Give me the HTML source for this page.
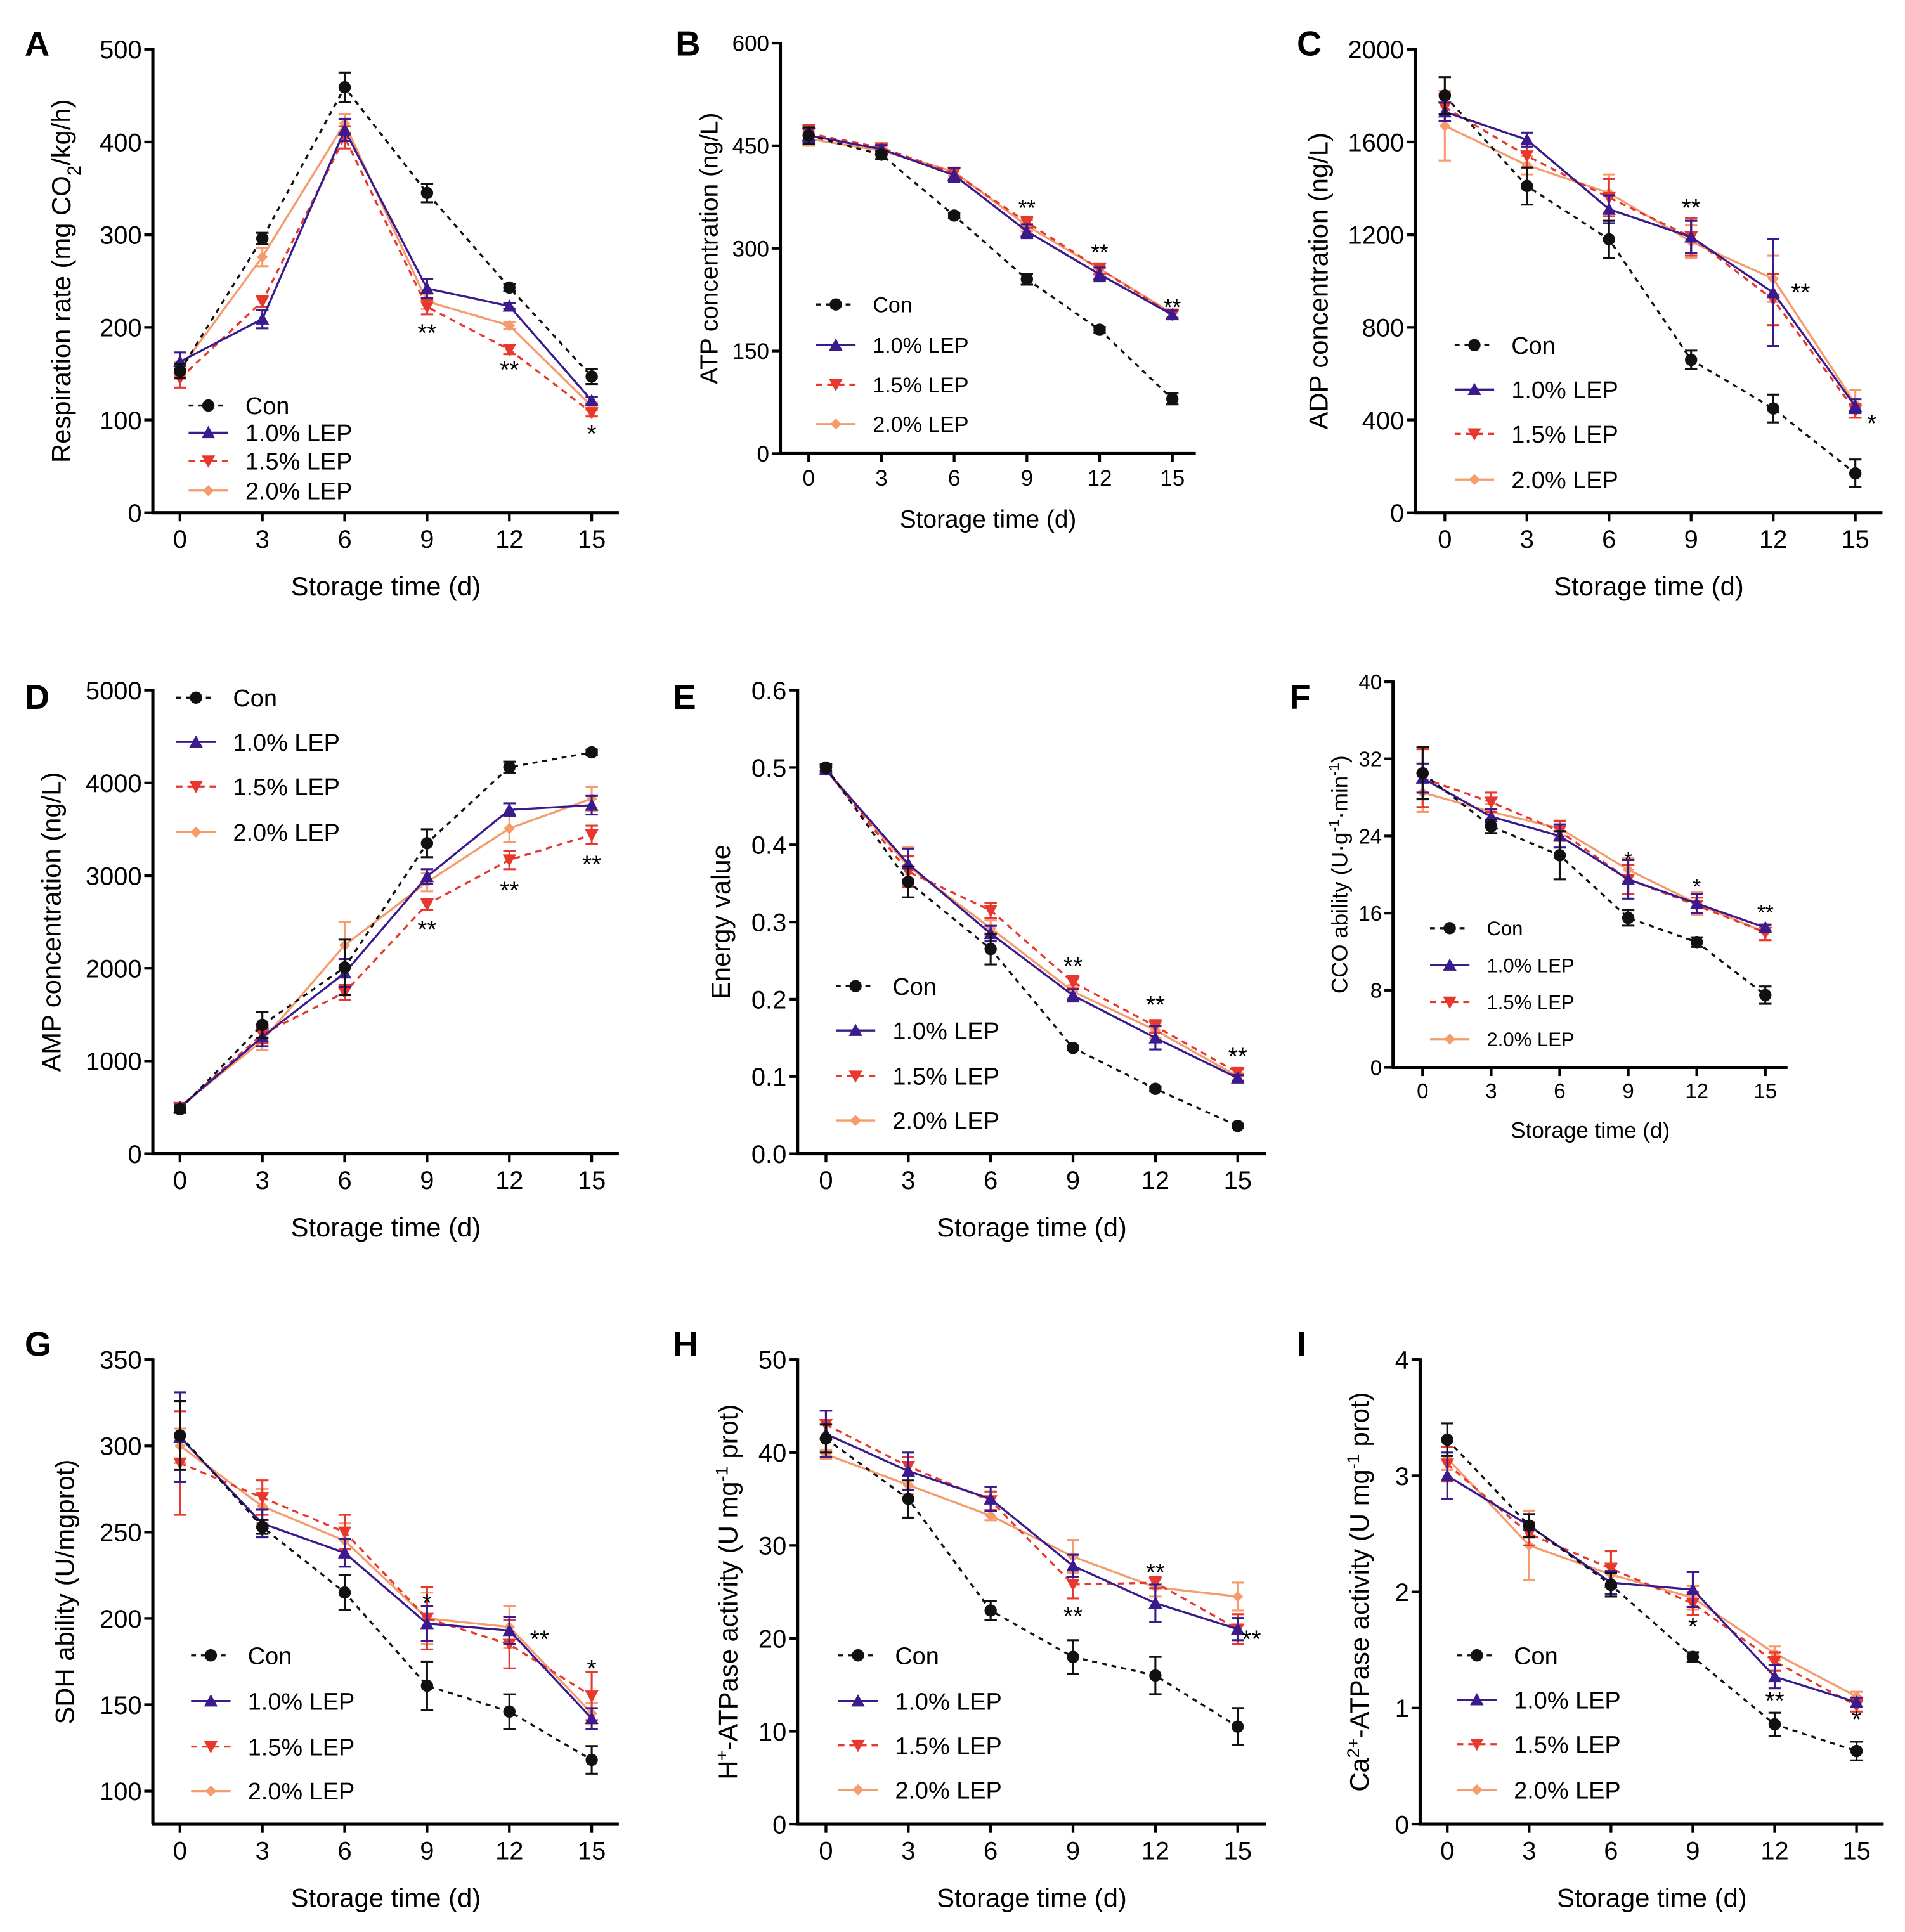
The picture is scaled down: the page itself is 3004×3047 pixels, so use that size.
<!DOCTYPE html>
<html><head><meta charset="utf-8"><style>
html,body{margin:0;padding:0;background:#fff;}
svg{display:block;font-family:"Liberation Sans",Arial,sans-serif;}
</style></head><body>
<svg id="fig" width="3004" height="3047" viewBox="0 0 1545.3 1567.4" xmlns="http://www.w3.org/2000/svg"></svg>
<script>
const days=[0,3,6,9,12,15];
const seriesNames=["Con","1.0% LEP","1.5% LEP","2.0% LEP"];
// panel A
const aCon=[153,296,459,345,243,147], a10=[163,209,413,242,223,121], a15=[145,228,405,222,176,108], a20=[155,276,420,228,202,115];
const aErr=[[8,6,16,10,4,8],[10,10,12,10,3,4],[10,6,12,8,5,4],[8,10,10,8,4,4]];
// panel B
const bCon=[465,437,348,255,181,80], b10=[465,445,407,325,262,203], b15=[468,447,410,338,270,203], b20=[460,443,412,333,270,205];
const bErr=[[12,6,4,8,4,8],[10,6,10,10,10,6],[12,6,8,8,8,6],[10,6,6,8,8,6]];
// panel C
const cCon=[1800,1410,1180,660,450,170], c10=[1730,1610,1310,1190,950,460], c15=[1750,1540,1360,1190,920,440], c20=[1670,1500,1380,1170,1010,470];
const cErr=[[80,80,80,40,60,60],[40,30,60,70,230,30],[60,50,80,80,110,30],[150,40,80,70,100,60]];
// panel D
const dCon=[480,1390,2010,3350,4170,4330], d10=[500,1260,1950,2990,3710,3760], d15=[500,1290,1740,2690,3170,3440], d20=[510,1220,2250,2930,3510,3830];
const dErr=[[40,140,300,150,60,30],[30,100,150,80,70,100],[30,100,80,60,100,100],[30,100,250,100,150,130]];
// panel E
const eCon=[0.5,0.352,0.265,0.137,0.084,0.036], e10=[0.497,0.375,0.285,0.205,0.15,0.098], e15=[0.497,0.365,0.315,0.222,0.165,0.105], e20=[0.497,0.372,0.292,0.21,0.16,0.1];
const eErr=[[0.004,0.02,0.02,0.003,0.003,0.003],[0.004,0.02,0.01,0.008,0.015,0.004],[0.004,0.02,0.01,0.008,0.008,0.004],[0.004,0.025,0.01,0.008,0.01,0.004]];
// panel F
const fCon=[30.5,25,22,15.5,13,7.5], f10=[30,26,24,19.5,17,14.5], f15=[30,27.5,24.5,19.5,16.8,14], f20=[28.5,26.5,24.8,20.5,17,14];
const fErr=[[2.7,0.7,2.5,0.8,0.5,0.9],[1.5,0.8,1.2,2,1,0.3],[3,1,1,1.5,0.8,0.8],[2,0.8,0.8,1.2,1.2,0.8]];
// panel G
const gCon=[306,253,215,161,146,118], g10=[305,255,238,197,193,142], g15=[290,270,250,200,185,155], g20=[300,265,245,200,195,145];
const gErr=[[20,4,10,14,10,8],[26,8,8,10,8,6],[30,10,10,18,14,14],[10,10,10,15,12,6]];
// panel H
const hCon=[41.5,35,23,18,16,10.5], h10=[42,38,35,27.8,23.8,21], h15=[43,38.5,34.8,25.8,26,21], h20=[39.8,36.5,33.2,28.8,25.5,24.5];
const hErr=[[1.5,2,1,1.8,2,2],[2.5,2,1.3,1.2,2,1.2],[1.5,1,1,1.5,0.6,1.6],[0.5,1,0.5,1.8,1,1.5]];
// panel I
const iCon=[3.31,2.57,2.06,1.44,0.86,0.63], i10=[3,2.57,2.08,2.02,1.27,1.05], i15=[3.1,2.5,2.2,1.9,1.4,1.02], i20=[3.15,2.4,2.15,1.95,1.47,1.1];
const iErr=[[0.14,0.1,0.1,0.04,0.1,0.08],[0.2,0.1,0.1,0.15,0.1,0.04],[0.15,0.1,0.15,0.1,0.08,0.05],[0.1,0.3,0.1,0.1,0.06,0.04]];
// tick labels
const aTicks=[0,100,200,300,400,500], bTicks=[0,150,300,450,600], cTicks=[0,400,800,1200,1600,2000];
const dTicks=[0,1000,2000,3000,4000,5000], eTicks=["0.0","0.1","0.2","0.3","0.4","0.5","0.6"], fTicks=[0,8,16,24,32,40];
const gTicks=[100,150,200,250,300,350], hTicks=[0,10,20,30,40,50], iTicks=[0,1,2,3,4];
// significance marks: [day, value, label]
const aSig=[[9,185,"**"],[12,145,"**"],[15,76,"*"]];
const bSig=[[9,348,"**"],[12,283,"**"],[15,203,"**"]];
const cSig=[[9,1280,"**"],[13,915,"**"],[15.6,350,"*"]];
const dSig=[[9,2330,"**"],[12,2750,"**"],[15,3030,"**"]];
const eSig=[[9,0.232,"**"],[12,0.182,"**"],[15,0.115,"**"]];
const fSig=[[9,20.8,"*"],[12,18,"*"],[15,15.3,"**"]];
const gSig=[[9,204,"*"],[13.1,183,"**"],[15,166,"*"]];
const hSig=[[9,21.5,"**"],[12,26.2,"**"],[15.5,19,"**"]];
const iSig=[[9,1.63,"*"],[12,0.99,"**"],[15,0.83,"*"]];

const colors=["#111","#3a1a8c","#e8382d","#f59b6c"];
const dashes=["4,4","","5,4",""];
const svg=document.getElementById('fig');
const NS="http://www.w3.org/2000/svg";
function mk(tag,attrs,parent,txt){const e=document.createElementNS(NS,tag);for(const k in attrs)e.setAttribute(k,attrs[k]);if(txt!==undefined)e.textContent=txt;(parent||svg).appendChild(e);return e;}

function panel(o){
  const g=mk('g',{});
  
  
  const xs=d=>o.x0+(o.x15-o.x0)*d/15;
  const ys=v=>o.bot-(o.bot-o.top)*(v-o.ymin)/(o.ymax-o.ymin);
  const fs=o.fs||20.5;
  const L=mk('text',{x:o.lx,y:o.ly,'font-size':28,'font-weight':'bold'},g,o.letter);
  
  const ya=mk('line',{x1:o.ax,y1:o.top-1,x2:o.ax,y2:o.bot,stroke:'#000','stroke-width':2.6},g);
  
  const xa=mk('line',{x1:o.ax-1,y1:o.bot,x2:o.xend,y2:o.bot,stroke:'#000','stroke-width':2.6},g);
  
  o.ticks.forEach(t=>{const v=parseFloat(t);const y=ys(v);
    mk('line',{x1:o.ax-7,y1:y,x2:o.ax,y2:y,stroke:'#000','stroke-width':2.2},g);
    const tl=mk('text',{x:o.ax-9,y:y+fs*0.36,'font-size':fs,'text-anchor':'end'},g,String(t));
    });
  days.forEach(d=>{const x=xs(d);
    mk('line',{x1:x,y1:o.bot,x2:x,y2:o.bot+7,stroke:'#000','stroke-width':2.2},g);
    const tl=mk('text',{x:x,y:o.bot+8+fs*1.0,'font-size':fs,'text-anchor':'middle'},g,String(d));
    });
  const xt=mk('text',{x:(o.ax+o.xend)/2,y:o.xty,'font-size':o.tfs||21.5,'text-anchor':'middle'},g,'Storage time (d)');
  
  const yt=mk('text',{x:0,y:0,'font-size':o.tfs||21.5,'text-anchor':'middle',transform:`translate(${o.ytx},${(o.top+o.bot)/2}) rotate(-90)`},g);
  yt.innerHTML=o.ytitle;
  
  for(let s=3;s>=0;s--){
    const vals=o.data[s], err=o.err[s], c=colors[s];
    const sg=mk('g',{},g);
    
    
    const pts=vals.map((v,i)=>xs(days[i])+','+ys(v)).join(' ');
    const pl=mk('polyline',{points:pts,fill:'none',stroke:c,'stroke-width':1.7},sg);
    if(dashes[s])pl.setAttribute('stroke-dasharray',dashes[s]);
    vals.forEach((v,i)=>{const x=xs(days[i]),y=ys(v),e=err[i];
      const eb=mk('path',{d:`M${x},${ys(v+e)}V${ys(v-e)}M${x-5},${ys(v+e)}H${x+5}M${x-5},${ys(v-e)}H${x+5}`,stroke:c,'stroke-width':1.6,fill:'none'},sg);
      
      marker(sg,s,x,y);});
  }
  o.sig.forEach(([d,v,t])=>{const st=mk('text',{x:xs(d),y:ys(v),'font-size':o.sfs||20,'text-anchor':'middle'},g,t);
    });
  o.legY.forEach((y,s)=>{const lg=mk('g',{},g);
    
    const l=mk('line',{x1:o.legX,y1:y,x2:o.legX+32,y2:y,stroke:colors[s],'stroke-width':1.7},lg);
    if(dashes[s])l.setAttribute('stroke-dasharray',dashes[s]);
    marker(lg,s,o.legX+16,y);
    mk('text',{x:o.legX+46,y:y+(o.lfs||19.5)*0.36,'font-size':o.lfs||19.5},lg,seriesNames[s]);});
}
function marker(p,s,x,y){const c=colors[s];
  if(s===0)mk('circle',{cx:x,cy:y,r:5,fill:c},p);
  else if(s===1)mk('path',{d:`M${x},${y-5.5}L${x+5.5},${y+4.5}L${x-5.5},${y+4.5}Z`,fill:c},p);
  else if(s===2)mk('path',{d:`M${x},${y+5.5}L${x+5.5},${y-4.5}L${x-5.5},${y-4.5}Z`,fill:c},p);
  else mk('path',{d:`M${x},${y-4.5}L${x+4.5},${y}L${x},${y+4.5}L${x-4.5},${y}Z`,fill:c},p);}

panel({letter:'A',lx:20,ly:45,ax:124,top:40,bot:416,xend:502,x0:146,x15:480,ymin:0,ymax:500,ticks:aTicks,data:[aCon,a10,a15,a20],err:aErr,sig:aSig,
  ytitle:'Respiration rate (mg CO<tspan baseline-shift="sub" font-size="15">2</tspan>/kg/h)',ytx:57,xty:483,legX:153,legY:[329,351,374,398]});
panel({letter:'B',lx:548,ly:45,ax:633,top:35,bot:368,xend:970,x0:656,x15:951,ymin:0,ymax:600,ticks:bTicks,data:[bCon,b10,b15,b20],err:bErr,sig:bSig,
  ytitle:'ATP concentration (ng/L)',ytx:582,xty:428,legX:662,legY:[247,280,312,344],fs:18,tfs:20,lfs:17.5,sfs:18});
panel({letter:'C',lx:1052,ly:45,ax:1148,top:40,bot:416,xend:1527,x0:1172,x15:1505,ymin:0,ymax:2000,ticks:cTicks,data:[cCon,c10,c15,c20],err:cErr,sig:cSig,
  ytitle:'ADP concentration (ng/L)',ytx:1077,xty:483,legX:1180,legY:[280,316,352,389]});
panel({letter:'D',lx:20,ly:575,ax:124,top:560,bot:936,xend:502,x0:146,x15:480,ymin:0,ymax:5000,ticks:dTicks,data:[dCon,d10,d15,d20],err:dErr,sig:dSig,
  ytitle:'AMP concentration (ng/L)',ytx:49,xty:1003,legX:143,legY:[566,602,638,675]});
panel({letter:'E',lx:546,ly:575,ax:647,top:560,bot:936,xend:1027,x0:670,x15:1004,ymin:0,ymax:0.6,ticks:eTicks,data:[eCon,e10,e15,e20],err:eErr,sig:eSig,
  ytitle:'Energy value',ytx:592,xty:1003,legX:678,legY:[800,836,873,909]});
panel({letter:'F',lx:1046,ly:575,ax:1130,top:553,bot:866,xend:1450,x0:1154,x15:1432,ymin:0,ymax:40,ticks:fTicks,data:[fCon,f10,f15,f20],err:fErr,sig:fSig,
  ytitle:'CCO ability (U·g<tspan baseline-shift="super" font-size="12">-1</tspan>·min<tspan baseline-shift="super" font-size="12">-1</tspan>)',ytx:1093,xty:923,legX:1160,legY:[753,783,813,843],fs:17,tfs:18,lfs:16,sfs:17});
panel({letter:'G',lx:20,ly:1100,ax:124,top:1103,bot:1480,xend:502,x0:146,x15:480,ymin:80.7,ymax:350,ticks:gTicks,data:[gCon,g10,g15,g20],err:gErr,sig:gSig,
  ytitle:'SDH ability (U/mgprot)',ytx:60,xty:1547,legX:155,legY:[1343,1380,1417,1453]});
panel({letter:'H',lx:546,ly:1100,ax:647,top:1103,bot:1480,xend:1027,x0:670,x15:1004,ymin:0,ymax:50,ticks:hTicks,data:[hCon,h10,h15,h20],err:hErr,sig:hSig,
  ytitle:'H<tspan baseline-shift="super" font-size="14">+</tspan>-ATPase activity  (U mg<tspan baseline-shift="super" font-size="14">-1</tspan> prot)',ytx:598,xty:1547,legX:680,legY:[1343,1380,1416,1452]});
panel({letter:'I',lx:1052,ly:1100,ax:1152,top:1103,bot:1480,xend:1528,x0:1174,x15:1506,ymin:0,ymax:4,ticks:iTicks,data:[iCon,i10,i15,i20],err:iErr,sig:iSig,
  ytitle:'Ca<tspan baseline-shift="super" font-size="14">2+</tspan>-ATPase activity (U mg<tspan baseline-shift="super" font-size="14">-1</tspan> prot)',ytx:1110,xty:1547,legX:1182,legY:[1343,1379,1415,1452]});
</script>
</body></html>
